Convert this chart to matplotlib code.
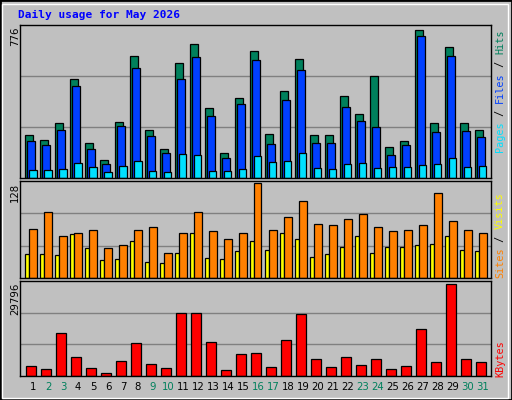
import matplotlib
matplotlib.use("Agg")
import matplotlib.pyplot as plt
from matplotlib.patches import Rectangle

days = list(range(1, 32))
weekend = [2, 3, 9, 10, 16, 17, 23, 24, 30, 31]
hits = [218,197,280,506,177,94,285,625,244,146,589,687,357,130,409,651,223,445,610,218,218,419,326,522,161,192,759,280,671,280,244]
files = [192,167,244,470,146,74,264,563,213,130,506,620,316,100,378,604,172,398,553,177,177,362,290,259,120,167,728,234,625,239,208]
pages = [43,43,48,79,58,33,64,89,38,33,125,120,38,38,48,115,84,89,130,53,48,74,79,53,58,58,69,74,105,58,64]
visits = [66,89,57,61,64,41,45,64,68,34,60,89,63,52,61,128,64,82,103,73,71,79,86,68,63,64,71,115,77,64,61]
sites = [32,32,31,59,41,24,25,50,21,20,34,61,27,25,37,50,38,61,53,28,32,42,57,34,42,42,44,46,57,38,37]
kbytes = [3370,2390,13800,5980,2720,1090,5000,10540,4020,2720,20330,20330,10870,2070,6960,7280,3040,11520,20000,5650,3040,5980,3700,5650,2390,3370,15110,4670,29796,5650,4670]
title = "Daily usage for May 2026"

W, H = 512, 400
BG = "#c0c0c0"
fig = plt.figure(figsize=(W/100, H/100), dpi=100, facecolor=BG)
mono = "DejaVu Sans Mono"
SLOT = 15.0
XMAX = 471 / SLOT

def ax_px(x0, y0, x1, y1):
    return fig.add_axes([x0/W, 1-y1/H, (x1-x0)/W, (y1-y0)/H])

def style(ax, ymax):
    ax.set_facecolor(BG)
    ax.set_xlim(0, XMAX)
    ax.set_ylim(0, ymax)
    ax.set_xticks([]); ax.set_yticks([])
    for s in ax.spines.values():
        s.set_color("black"); s.set_linewidth(1)
    for f in (1/3, 2/3):
        ax.axhline(ymax*f, color="#808080", lw=1, zorder=0)

def bars(ax, vals, off, w, color):
    ax.bar([i + off for i in range(31)], vals, width=w, align="edge",
           color=color, edgecolor="black", linewidth=0.9, zorder=2)

a1 = ax_px(20, 25, 491, 178)
style(a1, 776*1.01)
bars(a1, hits, 0.35, 0.49, "#00805c")
bars(a1, files, 0.48, 0.49, "#0040ff")
bars(a1, pages, 0.61, 0.49, "#00e0ff")

a2 = ax_px(20, 181, 491, 278)
style(a2, 128*1.02)
bars(a2, sites, 0.35, 0.27, "#ffff00")
bars(a2, visits, 0.62, 0.48, "#ff8000")

a3 = ax_px(20, 281, 491, 376)
style(a3, 29796*1.03)
bars(a3, kbytes, 0.42, 0.66, "#ff0000")

for i, d in enumerate(days):
    fig.text((20 + (i + 0.87) * SLOT)/W, 1-387/H, str(d), ha="center", va="center",
             fontsize=7.3, color="#00805c" if d in weekend else "black")

fig.text(18/W, 1-15/H, title, fontsize=8, fontweight="bold", color="#0000ff",
         family=mono, ha="left", va="center")

for val, ytop in ((776, 27), (128, 183), (29796, 283)):
    fig.text(15/W, 1-ytop/H, str(val), rotation=90, fontsize=7.3, ha="center", va="top")

def side(parts, ybottom, x=500):
    cw = 6.1
    y = ybottom
    for txt, col in parts:
        fig.text(x/W, 1-y/H, txt, rotation=90, fontsize=7.3, family=mono, color=col,
                 ha="center", va="bottom")
        y -= cw*len(txt)

side([("Pages", "#00e0ff"), (" / ", "black"), ("Files", "#0040ff"), (" / ", "black"), ("Hits", "#00805c")], 152)
side([("Sites", "#ff8000"), (" / ", "black"), ("Visits", "#ffff00")], 278)
side([("KBytes", "#ff0000")], 377)

fig.patches.append(Rectangle((0, 0), 1, 1, transform=fig.transFigure, fill=False,
                             edgecolor="black", lw=2))
fig.patches.append(Rectangle((2/W, 2/H), 1-6/W, 1-6/H, transform=fig.transFigure, fill=False,
                             edgecolor="white", lw=1))
fig.savefig("out.png", dpi=100, facecolor=BG)
